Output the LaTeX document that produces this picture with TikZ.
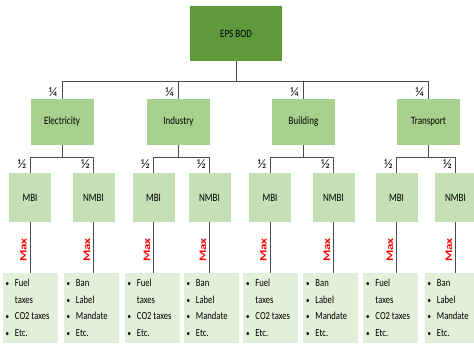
\documentclass[tikz,border=0pt]{standalone}
\usepackage{fontspec}
\setmainfont{Carlito}
\definecolor{topgreen}{HTML}{5E9A3B}
\definecolor{midgreen}{HTML}{A9D18E}
\definecolor{lowgreen}{HTML}{C5E0B4}
\definecolor{palegreen}{HTML}{E2EFD9}
\definecolor{maxred}{HTML}{FF0000}
\definecolor{linegray}{HTML}{4A4A4A}
\newcommand{\bulletlist}[1]{\scalebox{1}[1.25]{\begin{tabular}{@{}l@{\hspace{6pt}}l@{}}#1\end{tabular}}}
\newcommand{\bl}{{\scriptsize\textbullet}}
\newcommand{\tall}[1]{\scalebox{1}[1.25]{#1}}
\begin{document}
\begin{tikzpicture}[x=1pt,y=-1pt,
  topbox/.style={rectangle,fill=topgreen,minimum width=92pt,minimum height=55pt,inner sep=0pt,font=\fontsize{9}{10}\selectfont},
  sectorbox/.style={rectangle,fill=midgreen,minimum width=63pt,minimum height=46pt,inner sep=0pt,font=\fontsize{9}{10}\selectfont},
  instbox/.style={rectangle,fill=lowgreen,minimum width=42pt,minimum height=49pt,inner sep=0pt,font=\fontsize{9}{10}\selectfont},
  listbox/.style={rectangle,fill=palegreen,minimum width=55pt,minimum height=70pt,inner sep=0pt},
  listtext/.style={anchor=west,inner sep=0pt,font=\fontsize{8.6}{13.3}\selectfont},
  conn/.style={draw=linegray,line width=0.7pt},
  frac/.style={inner sep=0pt,font=\fontsize{13}{14}\selectfont},
  maxlabel/.style={rotate=90,inner sep=0pt,text=maxred,font=\fontsize{10}{11}\selectfont\bfseries}]
\useasboundingbox (0,0) rectangle (474,345);
\clip (0,0) rectangle (474,345);
\fill[white] (0,0) rectangle (474,345);

% level 1
\node[topbox] (top) at (236,33.5) {\tall{EPS BOD}};

% level 2
\node[sectorbox] (elec) at (62,122) {\tall{Electricity}};
\node[sectorbox] (ind) at (178.5,122) {\tall{Industry}};
\node[sectorbox] (bld) at (303.5,122) {\tall{Building}};
\node[sectorbox] (trn) at (428.5,122) {\tall{Transport}};

% level 3
\node[instbox] (m1) at (30,197.5) {\tall{MBI}};
\node[instbox] (n1) at (93.5,197.5) {\tall{NMBI}};
\node[instbox] (m2) at (153.5,197.5) {\tall{MBI}};
\node[instbox] (n2) at (209.5,197.5) {\tall{NMBI}};
\node[instbox] (m3) at (270,197.5) {\tall{MBI}};
\node[instbox] (n3) at (333.5,197.5) {\tall{NMBI}};
\node[instbox] (m4) at (396.5,197.5) {\tall{MBI}};
\node[instbox] (n4) at (455.5,197.5) {\tall{NMBI}};

% level 4
\foreach \nm/\x in {lm1/30,ln1/91,lm2/152,ln2/211,lm3/270.5,ln3/330.5,lm4/390.5,ln4/452}{
  \node[listbox] (\nm) at (\x,308) {};
}
\foreach \nm in {lm1,lm2,lm3,lm4}{
  \node[listtext] (\nm t) at ([xshift=3pt]\nm.west) {\bulletlist{\bl & Fuel\\ & taxes\\ \bl & CO2 taxes\\ \bl & Etc.}};
}
\foreach \nm in {ln1,ln2,ln3,ln4}{
  \node[listtext] (\nm t) at ([xshift=3pt]\nm.west) {\bulletlist{\bl & Ban\\ \bl & Label\\ \bl & Mandate\\ \bl & Etc.}};
}

% connectors level 1 -> 2
\coordinate (busA) at (0,81);
\draw[conn] (top.south) -- (top.south |- busA);
\draw[conn] (elec.north) |- (trn.north |- busA) -- (trn.north);
\draw[conn] (ind.north) -- (ind.north |- busA);
\draw[conn] (bld.north) -- (bld.north |- busA);

% connectors level 2 -> 3
\coordinate (busB) at (0,157);
\foreach \p/\a/\b in {elec/m1/n1,ind/m2/n2,bld/m3/n3,trn/m4/n4}{
  \draw[conn] (\p.south) -- (\p.south |- busB);
  \draw[conn] (\a.north) |- (\b.north |- busB) -- (\b.north);
}

% connectors level 3 -> 4 with Max labels
\foreach \a/\b in {m1/lm1,n1/ln1,m2/lm2,n2/ln2,m3/lm3,n3/ln3,m4/lm4,n4/ln4}{
  \draw[conn] (\a.south) -- (\a.south |- \b.north);
  \node[maxlabel] (\a max) at ([xshift=-6.5pt]\a.south |- 0,250) {\scalebox{1.3}[1]{Max}};
}

% fraction labels
\foreach \n in {elec,ind,bld,trn}{
  \node[frac] (\n q) at ([xshift=-9pt]\n.north |- 0,92) {¼};
}
\foreach \n in {m1,n1,m2,n2,m3,n3,m4,n4}{
  \node[frac] (\n h) at ([xshift=-8pt]\n.north |- 0,164) {½};
}
\end{tikzpicture}
\end{document}
